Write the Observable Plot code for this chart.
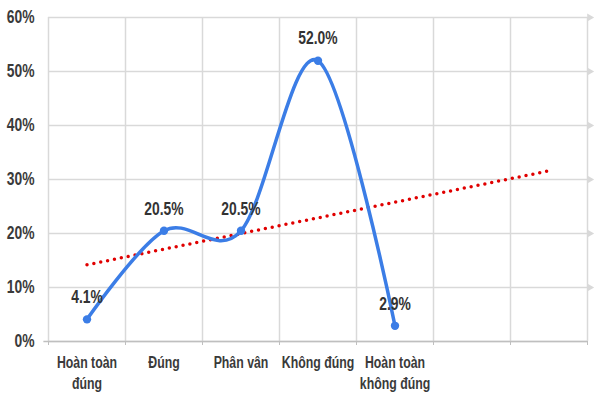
<!DOCTYPE html>
<html><head><meta charset="utf-8">
<script src="https://cdn.jsdelivr.net/npm/d3@7"></script>
<script src="https://cdn.jsdelivr.net/npm/@observablehq/plot@0.6"></script>
<style>body{margin:0;background:#fff}</style>
</head><body><div id="chart"></div>
<script>
const categories = ["Hoàn toàn\nđúng", "Đúng", "Phân vân", "Không đúng", "Hoàn toàn\nkhông đúng"];
const values = [4.1, 20.5, 20.5, 52.0, 2.9];
const valueLabels = ["4.1%", "20.5%", "20.5%", "52.0%", "2.9%"];
const trendPos = [1, 7];
const trendValues = [14.2, 31.6];
const yTicks = [0, 10, 20, 30, 40, 50, 60];
const slotEdges = [0.5, 1.5, 2.5, 3.5, 4.5, 5.5, 6.5, 7.5];

const data = categories.map((c, i) => ({x: i + 1, v: values[i], label: valueLabels[i], cat: c}));
const trend = trendPos.map((x, i) => ({x, v: trendValues[i]}));
const font = "'Liberation Sans', Arial, sans-serif";

const chart = Plot.plot({
  width: 600, height: 400,
  marginLeft: 48, marginRight: 13, marginTop: 17, marginBottom: 59,
  style: {fontFamily: font, background: "#fff"},
  x: {type: "linear", domain: [0.5, 7.5]},
  y: {domain: [0, 60]},
  marks: [
    Plot.gridX(slotEdges, {stroke: "#d9d9d9", strokeOpacity: 1, strokeWidth: 1.5}),
    Plot.gridY(yTicks, {stroke: "#d9d9d9", strokeOpacity: 1, strokeWidth: 1.5}),
    Plot.dot(yTicks.filter(t => t > 0), {x: 7.5, y: d => d, symbol: "triangle", r: 3, rotate: 90, fill: "#d9d9d9", dx: 2}),
    Plot.ruleY([0], {stroke: "#bfbfbf", strokeWidth: 1.5, x1: 0.44, x2: 7.5}),
    Plot.axisX(slotEdges, {tickSize: 4, stroke: "#bfbfbf", tickFormat: () => "", label: null}),
    Plot.axisX([1, 2, 3, 4, 5], {tickSize: 0, tickPadding: 12, tickFormat: d => categories[d - 1], label: null,
      fontSize: 16, fontWeight: "bold", fill: "#3a3a3a", lineHeight: 1.29}),
    Plot.axisY(yTicks, {tickSize: 0, tickPadding: 14, tickFormat: d => d + "%", label: null,
      fontSize: 18, fontWeight: "bold", fill: "#3a3a3a"}),
    Plot.line(trend, {x: "x", y: "v", stroke: "#e00000", strokeWidth: 3.5, strokeDasharray: "0 7", strokeLinecap: "round"}),
    Plot.line(data, {x: "x", y: "v", stroke: "#3b7de6", strokeWidth: 3.5, curve: "cardinal", tension: 0}),
    Plot.dot(data, {x: "x", y: "v", r: 4.2, fill: "#3b7de6"}),
    Plot.text(data, {x: "x", y: "v", text: "label", dy: -22, fontSize: 18, fontWeight: "bold", fill: "#333"})
  ]
});
// emulate the narrow typeface of the original by compressing text horizontally
chart.querySelectorAll("text").forEach(t => {
  const tr = t.getAttribute("transform") || "";
  t.setAttribute("transform", (tr + " scale(0.77,1)").trim());
});
document.getElementById("chart").appendChild(chart);
</script>
</body></html>
